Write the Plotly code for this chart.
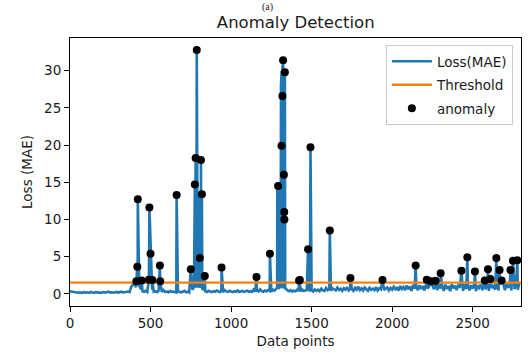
import plotly.graph_objects as go

# ---------------- data ----------------
threshold = 1.5
x_max = 2800

# baseline loss sampled every 10 data points (x = 0, 10, ..., 2790)
baseline_step = 10
baseline_loss = [
    0.35, 0.30, 0.25, 0.18, 0.22, 0.15, 0.20, 0.12, 0.18, 0.22,
    0.15, 0.20, 0.12, 0.25, 0.18, 0.14, 0.22, 0.16, 0.20, 0.13,
    0.18, 0.24, 0.15, 0.20, 0.30, 0.16, 0.21, 0.14, 0.19, 0.25,
    0.17, 0.22, 0.28, 0.18, 0.24, 0.20, 0.30, 0.22, 0.95, 1.20,
    1.35, 0.90, 1.40, 1.10, 0.60, 0.35, 0.28, 0.40, 0.25, 0.45,
    0.30, 0.55, 0.28, 0.35, 0.22, 0.40, 0.30, 0.26, 0.50, 0.24,
    0.32, 0.20, 0.38, 0.25, 0.30, 0.22, 0.18, 0.35, 0.28, 0.20,
    0.26, 0.40, 0.22, 0.30, 0.18, 0.45, 0.55, 0.70, 0.90, 0.85,
    0.95, 0.80, 1.00, 0.60, 0.35, 0.25, 0.40, 0.30, 0.22, 0.35,
    0.28, 0.45, 0.30, 0.25, 0.38, 0.22, 0.50, 0.32, 0.26, 0.40,
    0.30, 0.22, 0.35, 0.28, 0.45, 0.24, 0.32, 0.38, 0.26, 0.30,
    0.42, 0.28, 0.35, 0.25, 0.55, 0.30, 0.40, 0.32, 0.60, 0.35,
    0.28, 0.45, 0.32, 0.50, 0.38, 0.30, 0.55, 0.42, 0.65, 0.80,
    0.90, 1.10, 0.85, 1.00, 0.70, 0.45, 0.35, 0.50, 0.30, 0.42,
    0.35, 0.55, 0.40, 0.30, 0.60, 0.38, 0.45, 0.50, 0.70, 0.35,
    0.45, 0.30, 0.60, 0.40, 0.55, 0.35, 0.70, 0.45, 0.38, 0.80,
    0.50, 0.65, 0.40, 0.75, 0.55, 0.45, 0.85, 0.50, 0.70, 0.40,
    0.75, 0.55, 0.90, 0.45, 0.70, 0.60, 0.40, 0.80, 0.55, 0.95,
    0.50, 0.75, 0.45, 0.85, 0.60, 0.40, 0.80, 0.55, 0.70, 0.50,
    0.90, 0.45, 0.75, 0.60, 1.00, 0.50, 0.70, 0.85, 0.45, 0.80,
    0.55, 0.95, 0.60, 0.80, 0.45, 1.05, 0.65, 0.90, 0.50, 1.10,
    0.60, 1.00, 0.40, 1.20, 0.70, 0.95, 0.50, 1.15, 0.65, 1.05,
    0.45, 1.20, 0.70, 1.00, 0.35, 1.25, 0.60, 1.10, 0.50, 1.30,
    0.70, 1.15, 0.40, 1.25, 0.65, 1.05, 0.35, 1.30, 0.75, 1.10,
    0.50, 1.25, 0.80, 1.05, 0.40, 1.30, 0.65, 1.20, 0.45, 1.15,
    0.70, 1.30, 0.35, 1.10, 0.80, 1.25, 0.50, 1.35, 0.60, 1.20,
    0.40, 1.30, 0.75, 1.15, 0.55, 1.35, 0.45, 1.25, 0.70, 1.40,
    0.50, 1.35, 0.80, 1.20, 0.45, 1.40, 0.65, 1.30, 0.55, 1.45,
]

# extra loss readings between the baseline samples (spike bodies)
spike_x = [
    770, 776, 781, 784, 785, 789, 792, 793, 796, 797, 800, 801, 808, 811, 812, 815, 821,
    1286, 1287, 1289, 1290, 1293, 1294, 1296, 1297, 1299, 1300, 1302, 1303, 1305, 1306,
    1308, 1310, 1311, 1314, 1315, 1317, 1318, 1320, 1321, 1324, 1326, 1327, 1329, 1332, 1336,
]
spike_y = [
    0.9, 0.8, 1.0, 13.0, 0.9, 1.0, 12.5, 0.8, 13.2, 0.9, 12.8, 0.8, 0.9, 13.0, 0.8, 0.9, 0.7,
    0.8, 14.0, 0.7, 13.8, 0.8, 14.2, 0.6, 13.6, 0.8, 14.0, 0.7, 13.9, 0.9, 14.1,
    0.8, 28.0, 0.9, 30.0, 0.8, 29.0, 1.0, 30.8, 0.7, 0.9, 30.5, 0.8, 29.5, 0.9, 0.6,
]

# readings flagged as anomalies (loss above threshold)
anomaly_x = [
    412, 418, 421, 445, 490, 493, 500, 511, 558, 560, 662,
    750, 775, 780, 787, 806, 813, 819, 837, 941, 1158, 1241,
    1292, 1313, 1319, 1323, 1328, 1330, 1331, 1334,
    1422, 1427, 1478, 1493, 1613, 1741, 1940,
    2146, 2215, 2240, 2270, 2301, 2430, 2467, 2514, 2575, 2595,
    2610, 2647, 2667, 2680, 2735, 2750, 2777,
]
anomaly_y = [
    1.7, 3.65, 12.7, 1.78, 1.9, 11.6, 5.4, 1.87, 3.8, 1.7, 13.3,
    3.3, 14.7, 18.25, 32.8, 4.8, 18.0, 13.4, 2.4, 3.55, 2.27, 5.4,
    14.5, 19.9, 26.6, 31.4, 16.0, 11.0, 10.0, 29.8,
    1.8, 1.87, 6.0, 19.7, 8.5, 2.14, 1.87,
    3.8, 1.9, 1.7, 1.75, 2.76, 3.1, 4.9, 3.0, 1.8, 3.3,
    2.0, 4.8, 3.2, 1.8, 3.2, 4.45, 4.5,
]

# ---------------- build the loss series ----------------
points = {i * baseline_step: v for i, v in enumerate(baseline_loss)}
for xv, yv in zip(spike_x, spike_y):
    points[xv] = yv
for xv, yv in zip(anomaly_x, anomaly_y):
    points[xv] = yv
loss_x = sorted(points)
loss_y = [points[k] for k in loss_x]

BLUE = "#1f77b4"
ORANGE = "#ff7f0e"
FONT = "DejaVu Sans"
TXT = "#1a1a1a"

fig = go.Figure()
fig.add_trace(go.Scatter(
    x=loss_x, y=loss_y, mode="lines", name="Loss(MAE)",
    line=dict(color=BLUE, width=2.6), legendgroup="a",
))
fig.add_trace(go.Scatter(
    x=[0, x_max], y=[threshold, threshold], mode="lines", name="Threshold",
    line=dict(color=ORANGE, width=2.4), legendgroup="b",
))
fig.add_trace(go.Scatter(
    x=anomaly_x, y=anomaly_y, mode="markers", name="anomaly",
    marker=dict(color="black", size=8), legendgroup="c",
))

axis_common = dict(
    showline=True, mirror=True, linecolor="black", linewidth=1,
    ticks="outside", ticklen=5, tickwidth=1, tickcolor="black",
    showgrid=False, zeroline=False,
    tickfont=dict(family=FONT, size=13.5, color=TXT),
)

fig.update_layout(
    width=530, height=357,
    margin=dict(l=70, r=9, t=38, b=51),
    paper_bgcolor="white", plot_bgcolor="white",
    font=dict(family=FONT, size=13.5, color=TXT),
    title=dict(text="Anomaly Detection", x=0.558, xanchor="center",
               y=0.939, yanchor="middle",
               font=dict(family=FONT, size=16.5, color=TXT)),
    xaxis=dict(range=[0, x_max], tickvals=[0, 500, 1000, 1500, 2000, 2500],
               title=dict(text="Data points", standoff=6,
                          font=dict(family=FONT, size=13.5, color=TXT)),
               **axis_common),
    yaxis=dict(range=[-1.64, 34.4], tickvals=[0, 5, 10, 15, 20, 25, 30],
               title=dict(text="Loss (MAE)", standoff=8,
                          font=dict(family=FONT, size=13.5, color=TXT)),
               **axis_common),
    legend=dict(
        x=0.982, xanchor="right", y=0.974, yanchor="top",
        bgcolor="rgba(255,255,255,0.85)", bordercolor="#cccccc", borderwidth=1,
        font=dict(family=FONT, size=13.5, color=TXT),
        tracegroupgap=3, itemwidth=40,
    ),
    showlegend=True,
)

fig.add_annotation(
    text="(a)", xref="paper", yref="paper", x=0.438, y=1.0,
    yshift=24, xanchor="center", yanchor="bottom",
    showarrow=False, borderpad=0,
    font=dict(family="Liberation Serif", size=10, color=TXT),
)

fig.write_html("out.html")
